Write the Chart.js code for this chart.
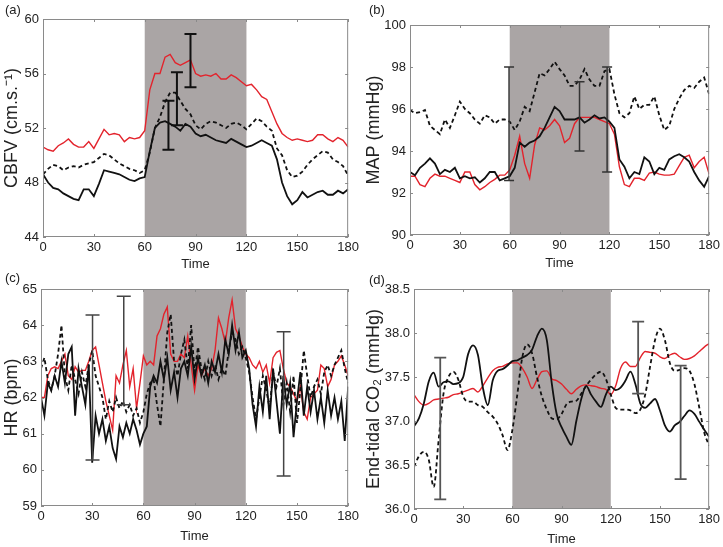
<!DOCTYPE html>
<html>
<head>
<meta charset="utf-8">
<script src="https://cdn.jsdelivr.net/npm/chart.js@4.4.0/dist/chart.umd.min.js"></script>
<style>
  body { margin: 0; background: #fff; width: 723px; height: 547px; position: relative; overflow: hidden; }
  canvas { position: absolute; }
</style>
</head>
<body>
<canvas id="cA" width="362" height="272" style="left:0;top:0"></canvas>
<canvas id="cB" width="361" height="272" style="left:362px;top:0"></canvas>
<canvas id="cC" width="362" height="275" style="left:0;top:272px"></canvas>
<canvas id="cD" width="361" height="275" style="left:362px;top:272px"></canvas>
<script>
// --- sample times (s) ---
const time3 = [0,3,6,9,12,15,18,21,24,27,30,33,36,39,42,45,48,51,54,57,60,63,66,69,72,75,78,81,84,87,90,
  93,96,99,102,105,108,111,114,117,120,123,126,129,132,135,138,141,144,147,150,153,156,159,162,165,168,171,174,177,180];
const time2 = [0,2,4,6,8,10,12,14,16,18,20,22,24,26,28,30,32,34,36,38,40,42,44,46,48,50,52,54,56,58,60,
  62,64,66,68,70,72,74,76,78,80,82,84,86,88,90,92,94,96,98,100,102,104,106,108,110,112,114,116,118,120,
  122,124,126,128,130,132,134,136,138,140,142,144,146,148,150,152,154,156,158,160,162,164,166,168,170,172,174,176,178,180];
const timeTicks = [0, 30, 60, 90, 120, 150, 180];
const stimulus = [60, 120];

// --- (a) CBFV ---
const cbfvRed = [50.6,50.4,50.3,50.7,50.9,51.2,50.8,50.6,50.6,51.0,50.5,51.2,51.9,51.5,51.6,51.5,51.0,51.3,51.2,51.3,51.8,
  54.8,56.0,56.0,57.2,57.4,56.8,56.6,56.8,57.0,56.0,55.8,55.9,55.8,56.0,55.6,55.6,55.9,55.7,55.4,55.1,
  55.2,54.8,54.3,54.1,53.2,52.3,51.6,51.3,51.1,51.2,51.1,51.0,51.1,51.5,51.5,51.2,51.0,51.3,51.1,50.6];
const cbfvDash = [48.6,49.0,49.3,49.2,48.9,49.1,49.2,49.1,49.3,49.4,49.5,49.8,50.1,50.0,49.7,49.4,49.2,49.0,48.9,48.7,48.9,
  50.2,52.0,52.8,53.9,54.6,54.6,54.0,53.4,53.0,52.2,51.9,52.3,52.5,52.4,52.2,52.0,52.3,52.4,52.2,51.9,
  52.3,52.7,52.5,52.1,51.8,50.5,50.0,48.9,48.4,48.5,48.8,49.3,49.7,50.0,50.3,50.2,49.7,49.5,49.2,48.5];
const cbfvSolid = [48.6,48.0,47.6,47.5,47.2,47.0,46.8,46.7,47.5,47.5,47.0,47.9,48.9,48.8,48.7,48.6,48.4,48.2,48.1,48.3,48.4,
  50.3,52.0,52.4,52.5,52.3,52.1,51.8,52.3,52.1,51.6,51.4,51.5,51.3,51.1,51.0,50.9,51.2,51.0,50.8,50.6,
  50.7,50.9,51.1,50.9,50.7,49.7,48.0,47.0,46.4,46.7,47.3,46.9,47.1,47.3,47.4,47.1,47.1,47.4,47.2,47.5];
const cbfvErrT = [74, 79, 87];
const cbfvErrLo = [50.4, 52.2, 55.0];
const cbfvErrHi = [54.0, 56.1, 58.9];

// --- (b) MAP ---
const mapRed = [92.8,92.8,92.4,92.3,92.7,92.9,92.8,92.8,92.7,92.6,92.5,93.0,93.0,92.4,92.15,92.3,92.5,92.65,92.85,92.85,93.1,
  93.8,94.7,93.4,92.7,94.3,95.1,95.0,95.2,95.5,95.2,94.4,94.6,95.3,95.6,95.6,95.6,95.6,95.5,95.4,95.3,
  94.8,93.25,92.4,92.3,92.7,92.7,92.6,92.95,93.0,92.9,92.85,92.85,92.9,93.3,93.7,93.8,93.2,93.5,93.7,92.9];
const mapDash = [95.95,95.8,95.85,95.95,95.2,95.0,94.8,95.5,95.1,95.7,96.35,96.0,95.8,95.5,95.3,95.7,95.6,95.3,95.5,95.5,95.4,
  95.0,95.4,96.1,95.9,96.8,97.7,97.6,97.9,98.25,97.9,97.6,97.1,97.1,97.4,97.9,97.4,97.1,97.1,97.8,97.9,
  96.7,95.8,95.6,95.8,96.6,96.0,96.2,96.2,96.6,95.7,95.0,95.2,96.0,96.5,96.9,97.1,97.0,97.3,97.5,96.7];
const mapSolid = [93.0,92.85,93.2,93.4,93.65,93.4,92.9,93.1,93.0,93.2,92.7,92.8,92.7,92.75,92.5,92.7,93.0,93.0,92.6,92.7,92.8,
  93.2,94.4,94.2,94.4,94.5,94.7,95.1,95.6,96.1,95.9,95.5,95.5,95.5,95.6,95.35,95.5,95.7,95.55,95.6,95.4,
  95.1,93.6,93.25,92.7,93.0,92.9,93.7,93.5,92.9,93.2,93.1,93.6,93.75,93.85,93.7,93.5,93.0,92.6,92.3,92.8];
const mapErrT = [59.6, 102, 118.6];
const mapErrLo = [92.6, 94.0, 93.0];
const mapErrHi = [98.0, 97.3, 98.0];

// --- (c) HR ---
const hrRed = [62.0,62.0,62.6,62.8,62.85,62.8,63.0,63.2,62.6,62.5,
  62.85,62.7,62.75,62.75,63.0,63.3,63.4,62.9,62.4,61.9,
  61.5,61.1,62.6,62.4,62.9,63.3,62.3,62.8,61.7,62.4,
  63.15,62.9,63.0,62.9,63.7,63.9,64.3,64.5,63.2,63.0,
  63.0,63.2,63.1,63.7,62.9,62.2,62.9,62.6,62.8,62.6,
  62.8,63.3,64.2,63.9,63.5,64.2,64.7,63.9,63.7,63.4,
  63.2,63.1,62.9,62.8,63.0,62.7,62.9,62.4,63.1,63.25,
  63.3,62.8,62.4,62.3,62.1,61.9,62.3,61.6,61.4,62.0,
  62.1,62.2,62.9,62.8,62.3,62.5,62.9,63.0,63.15,62.9,
  62.6];
const hrDash = [62.8,63.1,62.5,62.2,62.6,63.2,64.0,62.6,62.2,62.9,
  62.5,62.1,62.7,62.3,62.9,63.3,62.6,62.3,62.0,61.4,
  61.9,61.6,62.0,61.7,61.9,61.6,61.8,61.5,61.7,61.3,
  61.6,62.1,62.4,62.5,61.8,61.2,62.5,63.8,64.3,63.0,
  62.6,63.2,63.6,62.8,64.0,62.7,63.4,62.8,62.5,63.0,
  62.6,62.9,62.5,62.8,62.6,63.3,63.8,63.6,63.2,63.4,
  63.1,62.7,62.0,61.4,62.0,62.6,62.2,61.7,62.7,62.3,
  62.8,61.8,62.4,61.6,62.6,61.3,62.2,63.3,62.6,62.0,
  62.3,62.5,62.1,62.7,62.9,62.6,62.9,63.1,63.3,62.8,
  62.4];
const hrSolid = [62.0,61.5,62.4,62.2,62.6,62.3,63.0,62.4,63.2,63.4,
  61.5,62.8,62.3,61.8,62.9,60.2,61.5,61.0,61.4,60.8,
  61.2,60.6,60.3,61.2,60.9,61.3,61.0,61.4,61.1,60.7,
  61.0,61.2,62.3,62.6,62.4,63.0,62.5,63.1,62.2,62.7,
  62.0,62.8,63.0,62.6,63.4,62.5,63.1,62.6,62.9,62.4,
  63.0,62.7,63.2,62.7,63.6,63.2,64.0,63.3,63.8,63.1,
  63.3,62.8,61.8,61.2,62.3,61.6,62.6,61.4,62.8,61.9,
  61.0,62.6,61.8,62.4,60.9,61.9,62.7,61.5,62.3,61.6,
  62.2,61.4,62.0,61.3,62.2,61.5,62.0,61.4,61.9,60.8,
  62.3];
const hrErrT = [30.2, 48.5, 142.2];
const hrErrLo = [60.27, 61.8, 59.83];
const hrErrHi = [64.28, 64.8, 63.82];

// --- (d) End-tidal CO2 ---
const co2Red = [37.30,37.22,37.18,37.20,37.24,37.25,37.26,37.27,37.30,37.31,37.33,37.35,37.37,37.33,37.40,37.49,37.57,37.61,37.62,37.65,37.66,
  37.66,37.60,37.50,37.37,37.47,37.56,37.57,37.48,37.46,37.42,37.36,37.31,37.36,37.40,37.41,37.40,37.39,37.37,37.36,37.30,
  37.40,37.60,37.67,37.62,37.62,37.72,37.79,37.78,37.77,37.73,37.71,37.75,37.77,37.73,37.70,37.71,37.74,37.79,37.84,37.88];
const co2Dash = [36.48,36.60,36.65,36.56,36.25,36.78,37.31,37.50,37.56,37.47,37.28,37.22,37.22,37.18,37.16,37.10,37.05,36.97,36.84,36.67,36.90,
  37.30,37.72,37.87,37.77,37.50,37.28,37.13,37.03,37.02,37.08,37.19,37.22,37.23,37.31,37.40,37.47,37.53,37.56,37.48,37.30,
  37.15,37.13,37.13,37.12,37.09,37.13,37.30,37.62,37.92,38.05,37.92,37.66,37.57,37.58,37.60,37.57,37.42,37.15,36.87,36.72];
const co2Solid = [36.94,37.03,37.20,37.45,37.55,37.39,37.44,37.45,37.42,37.43,37.50,37.76,37.86,37.75,37.38,37.18,37.46,37.57,37.59,37.63,37.68,
  37.69,37.72,37.75,37.81,37.96,38.05,37.92,37.43,37.08,36.93,36.82,36.73,37.00,37.25,37.40,37.30,37.22,37.16,37.30,37.39,
  37.35,37.38,37.46,37.56,37.42,37.20,37.15,37.20,37.25,37.12,36.95,36.88,36.95,36.99,37.06,37.12,37.08,36.99,36.90,36.82];
const co2ErrT = [16, 136.7, 162.6];
const co2ErrLo = [36.11, 37.31, 36.34];
const co2ErrHi = [37.72, 38.13, 37.63];

const RED = '#e3232c';
const BLACK = '#111111';
const FONT = 'Arial, "Liberation Sans", sans-serif';

function pts(times, vals) {
  return vals.map((v, i) => ({ x: times[i], y: v }));
}

// shading, error bars, frame, panel letter
function panelPlugin(p) {
  return {
    id: 'panel' + p.label,
    beforeDatasetsDraw(chart) {
      const { ctx, chartArea: a, scales: { x } } = chart;
      const x1 = x.getPixelForValue(stimulus[0]);
      const x2 = x.getPixelForValue(stimulus[1]);
      ctx.save();
      ctx.fillStyle = '#aaa5a5';
      ctx.fillRect(x1, a.top, x2 - x1, a.bottom - a.top);
      ctx.restore();
    },
    afterDatasetsDraw(chart) {
      const { ctx, chartArea: a, scales: { x, y } } = chart;
      ctx.save();
      // error bars
      ctx.strokeStyle = p.errColor;
      ctx.lineWidth = p.errWidth;
      p.errT.forEach((t, i) => {
        const px = x.getPixelForValue(t);
        const lo = y.getPixelForValue(p.errLo[i]);
        const hi = y.getPixelForValue(p.errHi[i]);
        ctx.beginPath();
        ctx.moveTo(px, lo); ctx.lineTo(px, hi);
        ctx.moveTo(px - p.cap, lo); ctx.lineTo(px + p.cap, lo);
        ctx.moveTo(px - p.cap, hi); ctx.lineTo(px + p.cap, hi);
        ctx.stroke();
      });
      // frame + inward ticks
      ctx.strokeStyle = '#8a8a8a';
      ctx.lineWidth = 1;
      ctx.strokeRect(a.left + 0.5, a.top + 0.5, a.right - a.left - 1, a.bottom - a.top - 1);
      ctx.beginPath();
      x.ticks.forEach(tk => {
        const px = Math.round(x.getPixelForValue(tk.value)) + 0.5;
        ctx.moveTo(px, a.bottom); ctx.lineTo(px, a.bottom - 3);
        ctx.moveTo(px, a.top); ctx.lineTo(px, a.top + 3);
      });
      y.ticks.forEach(tk => {
        const py = Math.round(y.getPixelForValue(tk.value)) + 0.5;
        ctx.moveTo(a.left, py); ctx.lineTo(a.left + 3, py);
        ctx.moveTo(a.right, py); ctx.lineTo(a.right - 3, py);
      });
      ctx.stroke();
      ctx.restore();
    },
    afterDraw(chart) {
      const ctx = chart.ctx;
      ctx.save();
      ctx.fillStyle = '#222';
      ctx.font = '13px ' + FONT;
      ctx.textBaseline = 'middle';
      ctx.fillText('(' + p.label + ')', p.lx, p.ly);
      ctx.restore();
    }
  };
}

function makeChart(id, p) {
  const ds = (data, color, dash, width) => ({
    data, borderColor: color, borderWidth: width, borderDash: dash,
    pointRadius: 0, fill: false, tension: p.tension, cubicInterpolationMode: p.tension ? 'monotone' : 'default'
  });
  return new Chart(document.getElementById(id), {
    type: 'line',
    data: {
      datasets: [
        ds(pts(p.time, p.dash), BLACK, [4, 3], 1.8),
        ds(pts(p.time, p.solid), BLACK, [], 1.8),
        ds(pts(p.time, p.red), RED, [], 1.4)
      ]
    },
    options: {
      responsive: false,
      animation: false,
      layout: { padding: { left: 0, top: p.padTop, right: p.padRight, bottom: 0 } },
      plugins: { legend: { display: false }, tooltip: { enabled: false } },
      scales: {
        x: {
          type: 'linear', min: 0, max: 180,
          afterBuildTicks: s => { s.ticks = timeTicks.map(v => ({ value: v })); },
          ticks: { color: '#222', font: { size: 13, family: FONT }, padding: 3, maxRotation: 0 },
          grid: { display: false, drawTicks: false },
          border: { display: false },
          title: { display: true, text: 'Time', color: '#222', font: { size: 13, family: FONT }, padding: { top: 0, bottom: p.xTitlePad } },
          afterFit: s => { s.height = p.xh; }
        },
        y: {
          min: p.ymin, max: p.ymax,
          ticks: { stepSize: p.step, color: '#222', font: { size: 13, family: FONT }, padding: 4,
                   callback: v => p.dec ? v.toFixed(p.dec) : v },
          grid: { display: false, drawTicks: false },
          border: { display: false },
          title: { display: true, text: p.ytitle, color: '#222', font: { size: 18, family: FONT }, padding: { top: 1, bottom: 0 } },
          afterFit: s => { s.width = p.yw; }
        }
      }
    },
    plugins: [panelPlugin(p)]
  });
}

makeChart('cA', {
  label: 'a', lx: 5, ly: 10, time: time3, red: cbfvRed, dash: cbfvDash, solid: cbfvSolid,
  ymin: 44, ymax: 60, step: 4, ytitle: 'CBFV (cm.s.\u207B\u00B9)', yw: 43, xh: 35, padTop: 19, padRight: 13, xTitlePad: 0,
  errT: cbfvErrT, errLo: cbfvErrLo, errHi: cbfvErrHi, errColor: '#111', errWidth: 2, cap: 6, tension: 0
});
makeChart('cB', {
  label: 'b', lx: 7, ly: 10, time: time3, red: mapRed, dash: mapDash, solid: mapSolid,
  ymin: 90, ymax: 100, step: 2, ytitle: 'MAP (mmHg)', yw: 48, xh: 37, padTop: 25, padRight: 13, xTitlePad: 1,
  errT: mapErrT, errLo: mapErrLo, errHi: mapErrHi, errColor: '#333', errWidth: 1.5, cap: 5, tension: 0
});
makeChart('cC', {
  label: 'c', lx: 5, ly: 6, time: time2, red: hrRed, dash: hrDash, solid: hrSolid,
  ymin: 59, ymax: 65, step: 1, ytitle: 'HR (bpm)', yw: 41, xh: 41, padTop: 17, padRight: 13, xTitlePad: 3,
  errT: hrErrT, errLo: hrErrLo, errHi: hrErrHi, errColor: '#444', errWidth: 1.5, cap: 7, tension: 0
});
makeChart('cD', {
  label: 'd', lx: 7, ly: 8, time: time3, red: co2Red, dash: co2Dash, solid: co2Solid,
  ymin: 36, ymax: 38.5, step: 0.5, dec: 1, ytitle: 'End-tidal CO\u2082 (mmHg)', yw: 52, xh: 38, padTop: 17, padRight: 13, xTitlePad: 0,
  errT: co2ErrT, errLo: co2ErrLo, errHi: co2ErrHi, errColor: '#555', errWidth: 1.8, cap: 6, tension: 0.4
});
</script>
</body>
</html>
